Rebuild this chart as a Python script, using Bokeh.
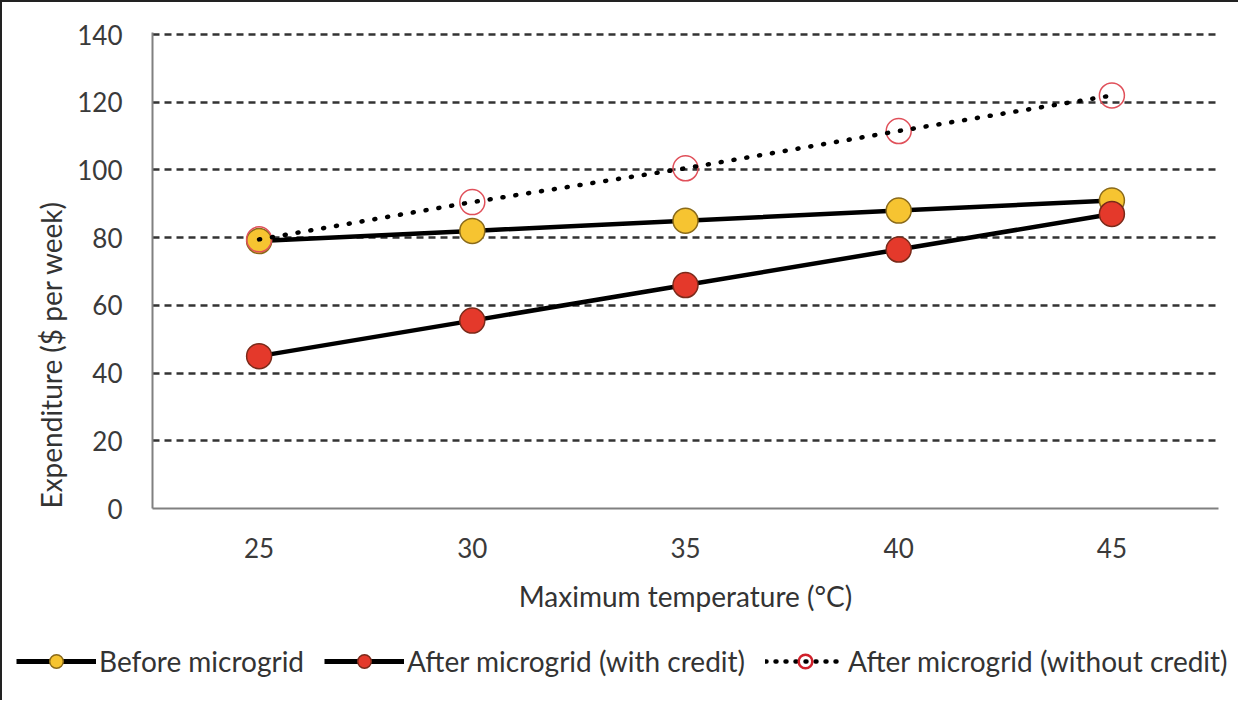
from bokeh.plotting import figure
from bokeh.models import FactorRange, Range1d, Legend, LegendItem, FixedTicker, Title
from bokeh.embed import file_html
from bokeh.resources import INLINE

temps = ["25", "30", "35", "40", "45"]
before = [79, 82, 85, 88, 91]
after_credit = [45, 55.5, 66, 76.5, 87]
after_no_credit = [79.5, 90.5, 100.5, 111.5, 122]
y_ticks = [0, 20, 40, 60, 80, 100, 120, 140]
series_names = ["Before microgrid", "After microgrid (with credit)",
                "After microgrid (without credit)"]

FONT = "Lato"
YELLOW, YELLOW_EDGE = "#F6C431", "#8a6a1a"
RED, RED_EDGE = "#E4392B", "#7a2a1a"
RING = "#E0505A"

p = figure(width=1238, height=630, output_backend="svg", toolbar_location=None,
           x_range=FactorRange(*temps), y_range=Range1d(0, 140.6),
           min_border_left=150, min_border_top=30, min_border_right=22,
           min_border_bottom=124)
p.styles = {"border-left": "2px solid #222", "border-top": "2px solid #222"}
p.outline_line_color = None
p.background_fill_color = "white"

p.xgrid.grid_line_color = None
p.ygrid.grid_line_color = "#333333"
p.ygrid.grid_line_width = 2.5
p.ygrid.grid_line_dash = "7 5"
p.yaxis.ticker = FixedTicker(ticks=y_ticks)

for ax in (p.xaxis[0], p.yaxis[0]):
    ax.axis_line_color = "#808080"
    ax.axis_line_width = 2
    ax.major_tick_line_color = None
    ax.minor_tick_line_color = None
    ax.major_tick_out = 0
    ax.major_tick_in = 0
    ax.major_label_text_font = FONT
    ax.major_label_text_font_size = "26px"
    ax.major_label_text_color = "#3a3a3a"
    ax.axis_label_text_font = FONT
    ax.axis_label_text_font_size = "28px"
    ax.axis_label_text_font_style = "normal"
    ax.axis_label_text_color = "#333333"

p.xaxis.major_label_standoff = 29
p.xaxis.axis_label = "Maximum temperature (°C)"
p.xaxis.axis_label_standoff = 18
p.yaxis.major_label_standoff = 30

ytitle = Title(text="Expenditure ($ per week)", align="left", offset=0,
               text_font=FONT, text_font_size="28px", text_font_style="normal",
               text_color="#333333", standoff=14)
p.add_layout(ytitle, "left")

l1 = p.line(temps, before, line_color="black", line_width=4.5)
s1 = p.scatter(temps, before, size=25, fill_color=YELLOW, line_color=YELLOW_EDGE, line_width=1.5)
l2 = p.line(temps, after_credit, line_color="black", line_width=4.5)
s2 = p.scatter(temps, after_credit, size=25, fill_color=RED, line_color=RED_EDGE, line_width=1.5)
s3 = p.scatter(temps, after_no_credit, size=25, fill_color=None, line_color=RING, line_width=1.5)
l3 = p.line(temps, after_no_credit, line_color="black", line_width=4.5, line_dash="1 12", line_cap="round")

# legend strip below the chart (its series lie outside its visible y range)
lg = figure(width=1238, height=70, output_backend="svg", toolbar_location=None,
            x_range=FactorRange(*temps), y_range=Range1d(-2, -1),
            x_axis_type=None, y_axis_type=None,
            min_border_left=0, min_border_right=0, min_border_top=0, min_border_bottom=0)
lg.styles = {"border-left": "2px solid #222"}
lg.outline_line_color = None
lg.xgrid.grid_line_color = None
lg.ygrid.grid_line_color = None
g1 = lg.line(temps, before, line_color="black", line_width=5)
h1 = lg.scatter(temps, before, size=14, fill_color=YELLOW, line_color=YELLOW_EDGE, line_width=1.5)
g2 = lg.line(temps, after_credit, line_color="black", line_width=5)
h2 = lg.scatter(temps, after_credit, size=14, fill_color=RED, line_color=RED_EDGE, line_width=1.5)
g3 = lg.line(temps, after_no_credit, line_color="black", line_width=4.5, line_dash="1 9", line_cap="round")
h3 = lg.scatter(temps, after_no_credit, size=14, fill_color=None, line_color="#D0202A", line_width=2.5)

legend = Legend(items=[
    LegendItem(label=series_names[0], renderers=[g1, h1]),
    LegendItem(label=series_names[1], renderers=[g2, h2]),
    LegendItem(label=series_names[2], renderers=[g3, h3]),
], orientation="horizontal", location=(14, 22))
legend.label_text_font = FONT
legend.label_text_font_size = "28px"
legend.label_text_color = "#333333"
legend.glyph_width = 80
legend.glyph_height = 34
legend.label_standoff = 3
legend.spacing = 20
legend.border_line_color = None
legend.background_fill_alpha = 0
legend.margin = 0
legend.padding = 0
lg.add_layout(legend, "center")

open("out.html", "w").write(file_html([p, lg], INLINE))
